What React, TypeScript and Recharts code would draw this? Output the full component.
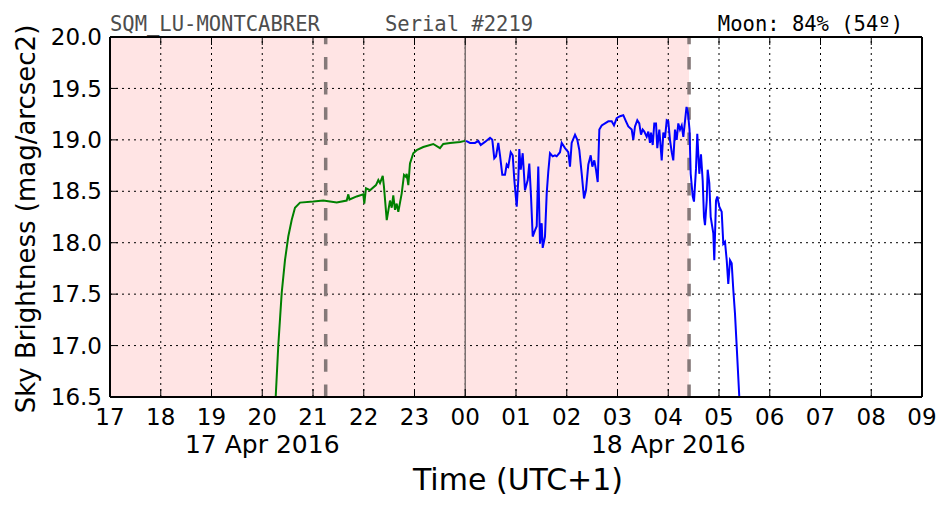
import { ComposedChart, Line, XAxis, YAxis, ReferenceArea, ReferenceLine, Customized } from 'recharts';

// hours on a continuous clock: 24 = 00h of 18 Apr
const hourTicks = [17, 18, 19, 20, 21, 22, 23, 24, 25, 26, 27, 28, 29, 30, 31, 32, 33];
const magTicks = [16.5, 17, 17.5, 18, 18.5, 19, 19.5, 20];
const dateTicks = [20, 28];
const dateNames: Record<number, string> = { 20: '17 Apr 2016', 28: '18 Apr 2016' };

const duskEnd = 21.25;
const dawnStart = 28.41;

// [hour, mag/arcsec2]
const eveningReadings: [number, number][] = [
  [20.265, 16.5], [20.316, 17.0], [20.383, 17.51], [20.448, 17.83], [20.513, 18.06],
  [20.58, 18.22], [20.645, 18.34], [20.744, 18.39], [21.006, 18.4], [21.203, 18.41],
  [21.467, 18.39], [21.664, 18.41], [21.696, 18.47], [21.719, 18.42], [21.861, 18.45],
  [21.991, 18.47], [22.011, 18.38], [22.044, 18.53], [22.123, 18.51], [22.241, 18.56],
  [22.287, 18.61], [22.32, 18.58], [22.374, 18.65], [22.399, 18.54], [22.453, 18.22],
  [22.517, 18.41], [22.551, 18.34], [22.582, 18.46], [22.616, 18.32], [22.649, 18.38],
  [22.681, 18.3], [22.748, 18.48], [22.793, 18.66], [22.833, 18.64], [22.846, 18.67],
  [22.878, 18.56], [22.911, 18.77], [22.976, 18.87], [23.043, 18.9], [23.173, 18.93],
  [23.37, 18.96], [23.502, 18.92], [23.567, 18.96], [23.7, 18.97], [23.897, 18.98],
  [23.995, 18.99],
];

const morningReadings: [number, number][] = [
  [24.015, 18.99], [24.094, 18.97], [24.192, 18.97], [24.257, 18.99], [24.305, 18.95],
  [24.389, 18.98], [24.488, 19.02], [24.533, 19.0], [24.572, 18.82], [24.606, 18.84],
  [24.651, 18.97], [24.685, 18.85], [24.73, 18.66], [24.783, 18.66], [24.817, 18.76],
  [24.848, 18.74], [24.896, 18.88], [24.935, 18.85], [24.967, 18.61], [25.014, 18.35],
  [25.045, 18.61], [25.065, 18.91], [25.093, 18.71], [25.132, 18.87], [25.177, 18.51],
  [25.231, 18.61], [25.262, 18.77], [25.296, 18.45], [25.329, 18.06], [25.374, 18.12],
  [25.408, 18.16], [25.439, 18.74], [25.473, 17.99], [25.506, 18.19], [25.526, 17.95],
  [25.571, 18.06], [25.605, 18.48], [25.636, 18.69], [25.67, 18.87], [25.723, 18.84],
  [25.768, 18.85], [25.802, 18.84], [25.867, 18.88], [25.9, 18.97], [25.966, 18.92],
  [26.03, 18.88], [26.064, 18.74], [26.097, 18.97], [26.163, 19.05], [26.208, 19.0],
  [26.248, 18.9], [26.295, 18.67], [26.34, 18.43], [26.379, 18.51], [26.425, 18.76],
  [26.472, 18.85], [26.504, 18.74], [26.543, 18.8], [26.576, 18.71], [26.61, 18.59],
  [26.642, 19.1], [26.689, 19.14], [26.754, 19.16], [26.819, 19.18], [26.886, 19.18],
  [26.931, 19.14], [26.984, 19.21], [27.049, 19.23], [27.114, 19.24], [27.167, 19.18],
  [27.213, 19.13], [27.28, 19.1], [27.311, 19.0], [27.345, 19.13], [27.39, 19.19],
  [27.429, 19.16], [27.463, 19.05], [27.496, 19.1], [27.528, 19.08], [27.575, 19.03],
  [27.607, 19.08], [27.64, 18.97], [27.66, 19.07], [27.694, 18.95], [27.725, 19.16],
  [27.759, 19.16], [27.784, 18.92], [27.824, 19.1], [27.871, 18.8], [27.903, 19.07],
  [27.936, 19.02], [27.97, 19.19], [28.001, 19.18], [28.034, 19.0], [28.068, 18.88],
  [28.099, 18.8], [28.133, 19.1], [28.166, 19.0], [28.198, 19.16], [28.232, 19.1],
  [28.265, 19.14], [28.297, 19.03], [28.36, 19.32], [28.389, 19.26], [28.419, 19.1],
  [28.442, 18.67], [28.482, 18.45], [28.507, 18.4], [28.547, 18.72], [28.572, 19.06],
  [28.612, 18.67], [28.645, 18.86], [28.679, 18.6], [28.704, 18.25], [28.724, 18.17],
  [28.758, 18.41], [28.777, 18.71], [28.809, 18.58], [28.836, 18.25], [28.888, 18.09],
  [28.907, 17.83], [28.941, 18.41], [28.966, 18.45], [29.006, 18.35], [29.053, 18.3],
  [29.085, 17.99], [29.118, 18.01], [29.152, 17.83], [29.183, 17.6], [29.217, 17.83],
  [29.25, 17.8], [29.282, 17.54], [29.315, 17.31], [29.349, 16.99], [29.4, 16.5],
];

const toRows = (pts: [number, number][]) => pts.map(([t, mag]) => ({ t, mag }));

const hourLabel = (h: number) => String(h % 24).padStart(2, '0');

const font = 'DejaVu Sans';
const mono = 'DejaVu Sans Mono';

function Labels() {
  return (
    <g>
      <text x={110} y={30.5} fontFamily={mono} fontSize={20.5} fill="#4d4d4d">SQM_LU-MONTCABRER</text>
      <text x={385} y={30.5} fontFamily={mono} fontSize={20.5} fill="#4d4d4d">Serial #2219</text>
      <text x={903} y={30.5} fontFamily={mono} fontSize={20.5} fill="#000" textAnchor="end">Moon: 84% (54º)</text>
      <text x={518} y={490} fontFamily={font} fontSize={30} fill="#000" textAnchor="middle">Time (UTC+1)</text>
      <text
        x={35}
        y={219}
        fontFamily={font}
        fontSize={26}
        fill="#000"
        textAnchor="middle"
        transform="rotate(-90 35 219)"
      >
        Sky Brightness (mag/arcsec2)
      </text>
    </g>
  );
}

const frame = { stroke: '#000', strokeWidth: 2 };
const tickMark = { stroke: '#000', strokeWidth: 1 };

export default function App() {
  return (
    <div style={{ position: 'absolute', left: 0, top: 0, background: '#fff' }}>
      <ComposedChart width={952} height={512} margin={{ top: 36, right: 29, bottom: 113, left: 109 }}>
        <XAxis
          xAxisId="b"
          dataKey="t"
          type="number"
          domain={[17, 33]}
          ticks={hourTicks}
          tickFormatter={hourLabel}
          height={1}
          tickSize={-8}
          tickMargin={20}
          tick={{ fontSize: 23, fill: '#000', fontFamily: font }}
          axisLine={frame}
          tickLine={tickMark}
          allowDataOverflow
        />
        <XAxis
          xAxisId="d"
          dataKey="t"
          type="number"
          domain={[17, 33]}
          ticks={dateTicks}
          tickFormatter={(h: number) => dateNames[h] ?? ''}
          height={1}
          tickSize={0}
          tickMargin={37}
          tick={{ fontSize: 25, fill: '#000', fontFamily: font }}
          axisLine={false}
          tickLine={false}
          allowDataOverflow
        />
        <XAxis
          xAxisId="t"
          orientation="top"
          dataKey="t"
          type="number"
          domain={[17, 33]}
          ticks={hourTicks}
          tickFormatter={() => ''}
          height={1}
          tickSize={-8}
          axisLine={frame}
          tickLine={tickMark}
          allowDataOverflow
        />
        <YAxis
          yAxisId="l"
          type="number"
          domain={[16.5, 20]}
          ticks={magTicks}
          tickFormatter={(v: number) => v.toFixed(1)}
          width={1}
          tickSize={-8}
          tickMargin={16}
          tick={{ fontSize: 23, fill: '#000', fontFamily: font }}
          axisLine={frame}
          tickLine={tickMark}
          allowDataOverflow
        />
        <YAxis
          yAxisId="r"
          orientation="right"
          type="number"
          domain={[16.5, 20]}
          ticks={magTicks}
          tickFormatter={() => ''}
          width={1}
          tickSize={-8}
          axisLine={frame}
          tickLine={tickMark}
          allowDataOverflow
        />
        <ReferenceArea
          xAxisId="b"
          yAxisId="l"
          x1={17}
          x2={dawnStart}
          fill="#ffe4e4"
          fillOpacity={1}
          stroke="none"
        />
        {hourTicks.map((h) => (
          <ReferenceLine key={`gx${h}`} xAxisId="b" yAxisId="l" x={h} stroke="#000" strokeWidth={1} strokeDasharray="2 4" />
        ))}
        {magTicks.map((m) => (
          <ReferenceLine key={`gy${m}`} xAxisId="b" yAxisId="l" y={m} stroke="#000" strokeWidth={1} strokeDasharray="2 4" />
        ))}
        <ReferenceLine xAxisId="b" yAxisId="l" x={24} stroke="#7a7070" strokeWidth={1.5} />
        <ReferenceLine xAxisId="b" yAxisId="l" x={duskEnd} stroke="#857979" strokeWidth={3.5} strokeDasharray="12.5 12.7" />
        <ReferenceLine xAxisId="b" yAxisId="l" x={dawnStart} stroke="#857979" strokeWidth={3.5} strokeDasharray="12.5 12.7" />
        <Line
          xAxisId="b"
          yAxisId="l"
          data={toRows(eveningReadings)}
          dataKey="mag"
          type="linear"
          stroke="#008000"
          strokeWidth={2}
          dot={false}
          isAnimationActive={false}
        />
        <Line
          xAxisId="b"
          yAxisId="l"
          data={toRows(morningReadings)}
          dataKey="mag"
          type="linear"
          stroke="#0000ff"
          strokeWidth={2}
          dot={false}
          isAnimationActive={false}
        />
        <Customized component={Labels} />
      </ComposedChart>
    </div>
  );
}
